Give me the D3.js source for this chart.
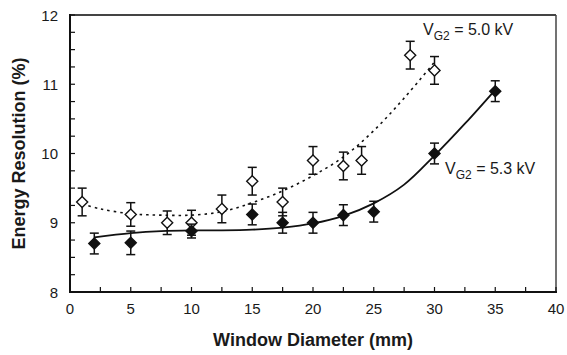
<!DOCTYPE html>
<html>
<head>
<meta charset="utf-8">
<script src="https://cdn.jsdelivr.net/npm/d3@7"></script>
<style>
  body { margin: 0; background: #fff; }
  text { font-family: "Liberation Sans", Arial, sans-serif; fill: #1a1a1a; }
</style>
</head>
<body>
<div id="chart"></div>
<script>
// measured points, V_G2 = 5.0 kV (open diamonds)
const openX = [1, 5, 8, 10, 12.5, 15, 17.5, 20, 22.5, 24, 28, 30];
const openY = [9.3, 9.12, 9.0, 9.0, 9.2, 9.6, 9.3, 9.9, 9.82, 9.9, 11.42, 11.2];
const openErr = [0.2, 0.17, 0.17, 0.18, 0.2, 0.2, 0.2, 0.2, 0.2, 0.2, 0.2, 0.2];

// measured points, V_G2 = 5.3 kV (filled diamonds)
const fillX = [2, 5, 10, 15, 17.5, 20, 22.5, 25, 30, 35];
const fillY = [8.7, 8.71, 8.88, 9.12, 9.0, 9.0, 9.11, 9.16, 10.0, 10.9];
const fillErr = [0.15, 0.17, 0.1, 0.15, 0.15, 0.15, 0.15, 0.15, 0.15, 0.15];

// fitted trend lines
const fitOpenX = [1, 2.5, 5, 7.5, 10, 12.5, 15, 17.5, 20, 22.5, 25, 27.5, 30];
const fitOpenY = [9.27, 9.2, 9.13, 9.11, 9.11, 9.16, 9.29, 9.46, 9.68, 9.95, 10.33, 10.8, 11.32];
const fitFillX = [2, 5, 7.5, 10, 12.5, 15, 17.5, 20, 22.5, 25, 27.5, 30, 32.5, 35];
const fitFillY = [8.79, 8.85, 8.88, 8.89, 8.89, 8.9, 8.93, 8.99, 9.1, 9.28, 9.55, 9.97, 10.43, 10.92];

const xTicks = [0, 5, 10, 15, 20, 25, 30, 35, 40];
const yTicks = [8, 9, 10, 11, 12];

const width = 567, height = 355;
const margin = { top: 15, right: 11, bottom: 63, left: 70 };

const svg = d3.select("#chart").append("svg")
  .attr("width", width)
  .attr("height", height);

const x = d3.scaleLinear().domain([0, 40]).range([margin.left, width - margin.right]);
const y = d3.scaleLinear().domain([8, 12]).range([height - margin.bottom, margin.top]);

// frame: top and right in dark gray
svg.append("line")
  .attr("x1", x(0)).attr("x2", x(40)).attr("y1", y(12)).attr("y2", y(12))
  .attr("stroke", "#444").attr("stroke-width", 2);
svg.append("line")
  .attr("x1", x(40)).attr("x2", x(40)).attr("y1", y(12)).attr("y2", y(8))
  .attr("stroke", "#444").attr("stroke-width", 1.5);

// minor tick marks pointing inward
const xMinor = d3.range(0, 40.01, 2.5);
const yMinor = d3.range(8, 12.01, 0.25);
svg.append("g").selectAll("line").data(xMinor).enter().append("line")
  .attr("x1", d => x(d)).attr("x2", d => x(d))
  .attr("y1", y(8)).attr("y2", y(8) - 5)
  .attr("stroke", "#111").attr("stroke-width", 1.2);
svg.append("g").selectAll("line").data(yMinor).enter().append("line")
  .attr("x1", x(0)).attr("x2", x(0) + 5)
  .attr("y1", d => y(d)).attr("y2", d => y(d))
  .attr("stroke", "#111").attr("stroke-width", 1.2);

// left and bottom axis lines
svg.append("line")
  .attr("x1", x(0)).attr("x2", x(0)).attr("y1", y(12) - 1).attr("y2", y(8) + 1)
  .attr("stroke", "#111").attr("stroke-width", 2);
svg.append("line")
  .attr("x1", x(0) - 1).attr("x2", x(40) + 1).attr("y1", y(8)).attr("y2", y(8))
  .attr("stroke", "#111").attr("stroke-width", 2);

// tick labels
svg.append("g").selectAll("text").data(xTicks).enter().append("text")
  .attr("x", d => x(d)).attr("y", y(8) + 22)
  .attr("text-anchor", "middle")
  .attr("font-size", 15)
  .text(d => d);
svg.append("g").selectAll("text").data(yTicks).enter().append("text")
  .attr("x", x(0) - 12).attr("y", d => y(d) + 5.5)
  .attr("text-anchor", "end")
  .attr("font-size", 15)
  .text(d => d);

// axis titles
svg.append("text")
  .attr("x", (x(0) + x(40)) / 2).attr("y", 346)
  .attr("text-anchor", "middle")
  .attr("font-size", 18).attr("font-weight", "bold")
  .text("Window Diameter (mm)");
svg.append("text")
  .attr("transform", `translate(25,${(y(8) + y(12)) / 2}) rotate(-90)`)
  .attr("text-anchor", "middle")
  .attr("font-size", 18).attr("font-weight", "bold")
  .text("Energy Resolution (%)");

// fit curves
const line = d3.line()
  .x(d => x(d[0]))
  .y(d => y(d[1]))
  .curve(d3.curveCatmullRom);

svg.append("path")
  .datum(d3.zip(fitOpenX, fitOpenY))
  .attr("d", line)
  .attr("fill", "none")
  .attr("stroke", "#111")
  .attr("stroke-width", 1.6)
  .attr("stroke-dasharray", "2.5,4");

svg.append("path")
  .datum(d3.zip(fitFillX, fitFillY))
  .attr("d", line)
  .attr("fill", "none")
  .attr("stroke", "#111")
  .attr("stroke-width", 1.8);

// error bars + diamonds
const diamond = d3.symbol().type(d3.symbolDiamond2).size(78);

function drawSeries(xs, ys, errs, fill) {
  const pts = xs.map((v, i) => ({ x: v, y: ys[i], e: errs[i] }));
  const g = svg.append("g");
  const eb = g.selectAll(".eb").data(pts).enter().append("g");
  eb.append("line")
    .attr("x1", d => x(d.x)).attr("x2", d => x(d.x))
    .attr("y1", d => y(d.y + d.e)).attr("y2", d => y(d.y - d.e))
    .attr("stroke", "#111").attr("stroke-width", 1.5);
  eb.append("line")
    .attr("x1", d => x(d.x) - 4.5).attr("x2", d => x(d.x) + 4.5)
    .attr("y1", d => y(d.y + d.e)).attr("y2", d => y(d.y + d.e))
    .attr("stroke", "#111").attr("stroke-width", 1.5);
  eb.append("line")
    .attr("x1", d => x(d.x) - 4.5).attr("x2", d => x(d.x) + 4.5)
    .attr("y1", d => y(d.y - d.e)).attr("y2", d => y(d.y - d.e))
    .attr("stroke", "#111").attr("stroke-width", 1.5);
  g.selectAll("path").data(pts).enter().append("path")
    .attr("d", diamond)
    .attr("transform", d => `translate(${x(d.x)},${y(d.y)})`)
    .attr("fill", fill)
    .attr("stroke", "#111")
    .attr("stroke-width", 1.4);
}

drawSeries(openX, openY, openErr, "#fff");
drawSeries(fillX, fillY, fillErr, "#111");

// series labels
function vLabel(px, py, value) {
  const t = svg.append("text").attr("x", px).attr("y", py).attr("font-size", 16);
  t.append("tspan").text("V");
  t.append("tspan").attr("font-size", 12).attr("dy", 5).text("G2");
  t.append("tspan").attr("dy", -5).text(" = " + value + " kV");
}
vLabel(423, 35, "5.0");
vLabel(445, 174, "5.3");
</script>
</body>
</html>
